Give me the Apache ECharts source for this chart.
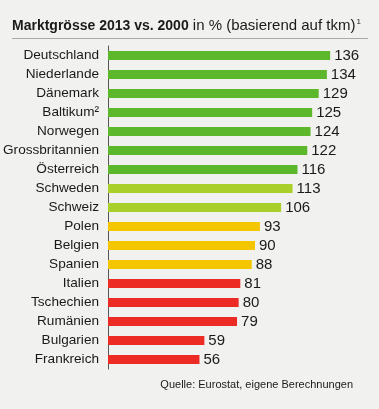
<!DOCTYPE html>
<html>
<head>
<meta charset="utf-8">
<script src="https://cdn.jsdelivr.net/npm/echarts@6/dist/echarts.min.js"></script>
<style>
html,body{margin:0;padding:0;background:#f1f1ef;}
#c{width:379px;height:409px;}
</style>
</head>
<body>
<div id="c"></div>
<script>
const categories = ['Deutschland','Niederlande','Dänemark','Baltikum²','Norwegen','Grossbritannien','Österreich','Schweden','Schweiz','Polen','Belgien','Spanien','Italien','Tschechien','Rumänien','Bulgarien','Frankreich'];
const values = [136,134,129,125,124,122,116,113,106,93,90,88,81,80,79,59,56];
const titleBold = 'Marktgrösse 2013 vs. 2000';
const titleRest = ' in % (basierend auf tkm)';
const sourceText = 'Quelle: Eurostat, eigene Berechnungen';

function colorFor(v){
  if (v >= 115) return '#5cb72a';
  if (v >= 100) return '#a9cf2b';
  if (v >= 85) return '#f3c600';
  return '#ec2b24';
}

const chart = echarts.init(document.getElementById('c'));
const FONT = '"Liberation Sans", Arial, sans-serif';
chart.setOption({
  backgroundColor: '#f1f1ef',
  animation: false,
  title: {
    left: 12, top: 18, padding: 0,
    text: '{b|' + titleBold + '}{n|' + titleRest + '}{s|1}',
    textStyle: {
      fontWeight: 'normal',
      rich: {
        b: {fontFamily: FONT, fontSize: 14, fontWeight: 'bold', color: '#1a1a1a'},
        n: {fontFamily: FONT, fontSize: 15, fontWeight: 'normal', color: '#1a1a1a'},
        s: {fontFamily: FONT, fontSize: 8, fontWeight: 'normal', color: '#1a1a1a', verticalAlign: 'top', padding: [0,0,8,1]}
      }
    }
  },
  graphic: [
    {type: 'line', shape: {x1: 12, y1: 38.5, x2: 368, y2: 38.5}, style: {stroke: '#a9a9a9', lineWidth: 1}},
    {type: 'text', right: 26, top: 379, style: {text: sourceText, font: '11px ' + FONT, fill: '#1a1a1a'}}
  ],
  grid: {left: 108, top: 46, width: 245, height: 323, containLabel: false, outerBoundsMode: 'none'},
  xAxis: {
    type: 'value', min: 0, max: 150, show: false
  },
  yAxis: {
    type: 'category', data: categories, inverse: true,
    axisLine: {show: true, lineStyle: {color: '#555', width: 1}},
    axisTick: {show: false},
    axisLabel: {fontFamily: FONT, fontSize: 13.6, color: '#1a1a1a', margin: 9}
  },
  series: [{
    type: 'bar',
    data: values.map(v => ({value: v, itemStyle: {color: colorFor(v)}})),
    barWidth: 9,
    label: {show: true, position: 'right', distance: 4, fontFamily: FONT, fontSize: 15, color: '#1a1a1a'}
  }]
});
</script>
</body>
</html>
